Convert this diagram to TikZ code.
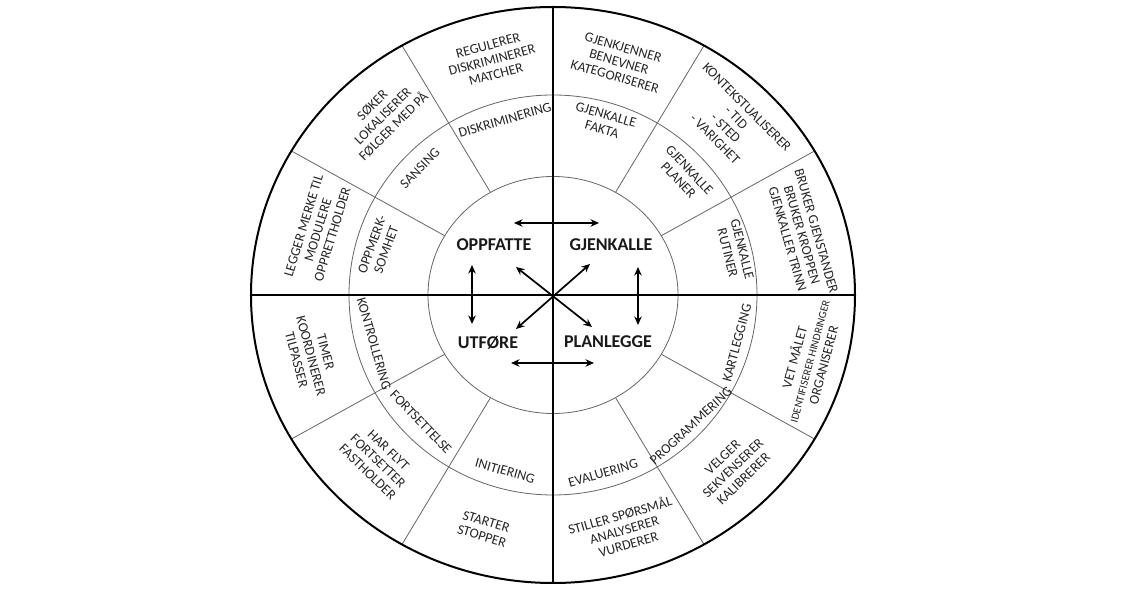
\documentclass[tikz,border=0pt]{standalone}
\usepackage{fontspec}
\setmainfont{Carlito}
\usetikzlibrary{arrows.meta}
\begin{document}
\begin{tikzpicture}[x=1pt,y=1pt,
  ring/.style={draw=black!60, line width=0.8pt},
  divider/.style={draw=black!60, line width=0.8pt},
  axis/.style={line width=1.8pt},
  lbl/.style={align=center, text=black!85, font=\fontsize{13.8}{15}\selectfont, inner sep=0pt},
  core/.style={text=black!90, font=\fontsize{18}{20}\selectfont\bfseries, inner sep=0pt},
  dbl/.style={{Stealth[length=8.5pt,width=7.5pt]}-{Stealth[length=8.5pt,width=7.5pt]}, line width=1.7pt}
]
\useasboundingbox (-553,-301) rectangle (587,295);
\fill[white] (-553,-301) rectangle (587,295);

% rings
\draw[ring] (0,0) ellipse [x radius=125, y radius=118.5];
\draw[ring] (0,0) ellipse [x radius=204, y radius=200];
\foreach \a in {30,60,120,150,210,240,300,330} {
  \draw[divider] ({125*cos(\a)},{118.5*sin(\a)}) -- ({302*cos(\a)},{288*sin(\a)});
}
\draw[line width=2pt] (0,0) ellipse [x radius=302, y radius=288];
\coordinate (L) at (-302,0);
\coordinate (R) at (302,0);
\coordinate (T) at (0,288);
\coordinate (B) at (0,-288);
\draw[axis] (L) -- (R);
\draw[axis] (T) -- (B);

% outer ring, top-left
\node[lbl, rotate=15] (o1) at (-61,235) {REGULERER\\DISKRIMINERER\\MATCHER};
\node[lbl, rotate=45] (o2) at (-170,179) {SØKER\\LOKALISERER\\FØLGER MED PÅ};
\node[lbl, rotate=73] (o3) at (-235,65) {LEGGER MERKE TIL\\MODULERE\\OPPRETTHOLDER};
% middle ring, top-left
\node[lbl, rotate=16] (m1) at (-48,175) {DISKRIMINERING};
\node[lbl, rotate=46] (m2) at (-133,127) {SANSING};
\node[lbl, rotate=70] (m3) at (-174,48) {OPPMERK-\\SOMHET};
% outer ring, top-right
\node[lbl, rotate=-16] (o4) at (66,233) {GJENKJENNER\\BENEVNER\\KATEGORISERER};
\node[lbl, rotate=-45] (o5) at (178,172) {KONTEKSTUALISERER\\- TID\\- STED\\- VARIGHET};
\node[lbl, rotate=-74] (o6) at (249,60) {BRUKER GJENSTANDER\\BRUKER KROPPEN\\GJENKALLER TRINN};
% middle ring, top-right
\node[lbl, rotate=-16] (m4) at (51,173) {GJENKALLE\\FAKTA};
\node[lbl, rotate=-47] (m5) at (131,120) {GJENKALLE\\PLANER};
\node[lbl, rotate=-76] (m6) at (182,44) {GJENKALLE\\RUTINER};
% outer ring, bottom-right
\node[lbl, rotate=75] (o7) at (255,-66) {VET MÅLET\\{\fontsize{11}{12.5}\selectfont IDENTIFISERER HINDRINGER}\\ORGANISERER};
\node[lbl, rotate=44] (o8) at (180,-173) {VELGER\\SEKVENSERER\\KALIBRERER};
\node[lbl, rotate=16] (o9) at (71,-234) {STILLER SPØRSMÅL\\ANALYSERER\\VURDERER};
% middle ring, bottom-right
\node[lbl, rotate=75] (m7) at (184,-48) {KARTLEGGING};
\node[lbl, rotate=43] (m8) at (138,-131) {PROGRAMMERING};
\node[lbl, rotate=16] (m9) at (50,-178) {EVALUERING};
% outer ring, bottom-left
\node[lbl, rotate=-17] (o10) at (-69,-234) {STARTER\\STOPPER};
\node[lbl, rotate=-44] (o11) at (-175,-166) {HAR FLYT\\FORTSETTER\\FASTHOLDER};
\node[lbl, rotate=-75] (o12) at (-242,-61) {TIMER\\KOORDINERER\\TILPASSER};
% middle ring, bottom-left
\node[lbl, rotate=-16] (m10) at (-48,-176) {INITIERING};
\node[lbl, rotate=-46] (m11) at (-132,-127) {FORTSETTELSE};
\node[lbl, rotate=-74] (m12) at (-179,-49) {KONTROLLERING};

% core labels
\node[core] (oppfatte) at (-59,50) {OPPFATTE};
\node[core] (gjenkalle) at (58,50) {GJENKALLE};
\node[core] (utfore) at (-65,-48) {UTFØRE};
\node[core] (planlegge) at (55,-47) {PLANLEGGE};

% arrows
\coordinate (a1) at (-39,72);  \coordinate (a2) at (46,72);
\coordinate (b1) at (-42,-68); \coordinate (b2) at (41,-68);
\coordinate (c1) at (-81,30);  \coordinate (c2) at (-81,-29);
\coordinate (d1) at (85,28);   \coordinate (d2) at (85,-30);
\coordinate (e1) at (-37,28);  \coordinate (e2) at (39,-32);
\coordinate (f1) at (37,31);   \coordinate (f2) at (-37,-34);
\draw[dbl] (a1) -- (a2);
\draw[dbl] (b1) -- (b2);
\draw[dbl] (c1) -- (c2);
\draw[dbl] (d1) -- (d2);
\draw[dbl] (e1) -- (e2);
\draw[dbl] (f1) -- (f2);
\end{tikzpicture}
\end{document}
